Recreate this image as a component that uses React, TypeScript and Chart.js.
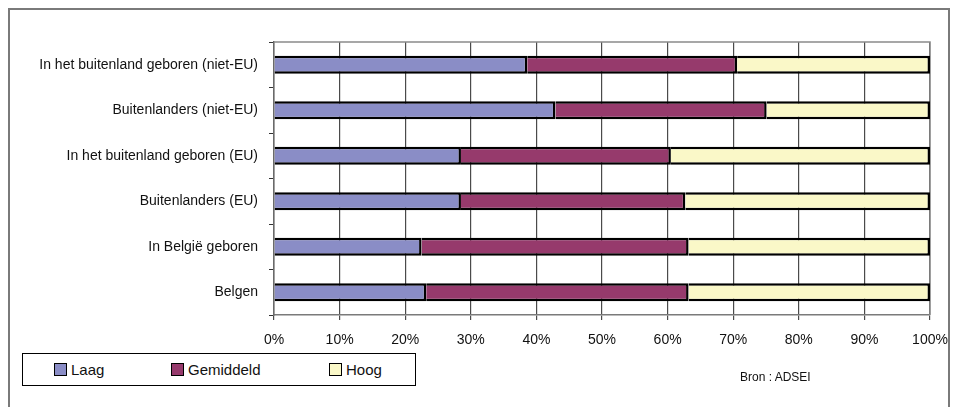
import React, { useEffect, useRef } from "react";
import { Chart, registerables } from "chart.js";

Chart.register(...registerables);

const categories = [
  "In het buitenland geboren (niet-EU)",
  "Buitenlanders (niet-EU)",
  "In het buitenland geboren (EU)",
  "Buitenlanders (EU)",
  "In België geboren",
  "Belgen",
];
const laag = [38.6, 42.9, 28.5, 28.5, 22.5, 23.2];
const gemiddeld = [32.0, 32.2, 32.0, 34.2, 40.7, 40.0];
const hoog = [29.4, 24.9, 39.5, 37.3, 36.8, 36.8];
const seriesNames = ["Laag", "Gemiddeld", "Hoog"];
const seriesColors = ["#8A8DC6", "#963A6C", "#FAF8C8"];
const sourceText = "Bron : ADSEI";

const FONT = "'Liberation Sans', Arial, sans-serif";

const frame = {
  id: "frame",
  beforeDatasetsDraw(chart: any) {
    const { ctx, chartArea } = chart;
    ctx.save();
    ctx.strokeStyle = "#8a8a8a";
    ctx.lineWidth = 1.5;
    ctx.beginPath();
    ctx.moveTo(chartArea.left, chartArea.top);
    ctx.lineTo(chartArea.right, chartArea.top);
    ctx.lineTo(chartArea.right, chartArea.bottom);
    ctx.stroke();
    ctx.restore();
  },
};

export default function App() {
  const ref = useRef<HTMLCanvasElement>(null);
  useEffect(() => {
    if (!ref.current) return;
    const values = [laag, gemiddeld, hoog];
    const chart = new Chart(ref.current, {
      type: "bar",
      data: {
        labels: categories,
        datasets: seriesNames.map((name, i) => ({
          label: name,
          data: values[i],
          backgroundColor: seriesColors[i],
          borderColor: "#000",
          borderWidth: 2.5,
          barPercentage: 0.4,
          categoryPercentage: 1,
        })),
      },
      options: {
        indexAxis: "y",
        animation: false,
        responsive: false,
        maintainAspectRatio: false,
        layout: { padding: { top: 42, right: 24, bottom: 58, left: 0 } },
        plugins: { legend: { display: false }, tooltip: { enabled: false } },
        scales: {
          x: {
            stacked: true,
            min: 0,
            max: 100,
            afterFit(scale: any) {
              scale.height = 34;
              scale.paddingLeft = 0;
              scale.paddingRight = 0;
            },
            ticks: {
              stepSize: 10,
              callback: (v: any) => v + "%",
              color: "#111",
              font: { family: FONT, size: 14 },
              padding: 12,
              maxRotation: 0,
            },
            grid: {
              color: "#4a4a4a",
              lineWidth: 1.2,
              tickLength: 5,
              drawTicks: true,
            },
            border: { display: true, color: "#7a7a7a", width: 1.5 },
          },
          y: {
            stacked: true,
            afterFit(scale: any) {
              scale.width = 274;
              scale.paddingTop = 0;
              scale.paddingBottom = 0;
            },
            ticks: {
              color: "#111",
              font: { family: FONT, size: 14 },
              padding: 11,
            },
            grid: {
              drawOnChartArea: false,
              drawTicks: true,
              tickLength: 5,
              color: "#333",
              offset: true,
            },
            border: { display: true, color: "#6a6a6a", width: 1.5 },
          },
        },
      },
      plugins: [frame],
    });
    return () => chart.destroy();
  }, []);

  const sq = (c: string) => ({
    display: "inline-block",
    width: 11,
    height: 11,
    background: c,
    border: "1.5px solid #000",
    position: "absolute" as const,
    top: 9,
  });

  return (
    <div style={{ position: "absolute", left: 0, top: 0, width: 954, height: 407, overflow: "hidden", background: "#fff" }}>
      <div
        style={{
          position: "absolute",
          left: 8,
          top: 8,
          width: 942,
          height: 420,
          border: "2px solid #7a7a7a",
          boxSizing: "border-box",
        }}
      />
      <canvas ref={ref} width={954} height={407} style={{ position: "absolute", left: 0, top: 0, width: 954, height: 407 }} />
      <div
        style={{
          position: "absolute",
          left: 22,
          top: 353,
          width: 394,
          height: 33,
          border: "1px solid #000",
          boxSizing: "border-box",
          fontFamily: FONT,
          fontSize: 15,
          color: "#111",
          background: "#fff",
        }}
      >
        {seriesNames.map((n, i) => {
          const lefts = [31, 148, 306];
          return (
            <div key={n} style={{ position: "absolute", left: lefts[i], top: 0, height: 31 }}>
              <span style={sq(seriesColors[i])} />
              <span style={{ position: "absolute", left: 17, top: 7, whiteSpace: "nowrap", lineHeight: "17px" }}>{n}</span>
            </div>
          );
        })}
      </div>
      <div
        style={{
          position: "absolute",
          left: 740,
          top: 369,
          fontFamily: FONT,
          fontSize: 12,
          color: "#111",
          whiteSpace: "nowrap",
          lineHeight: "16px",
        }}
      >
        {sourceText}
      </div>
    </div>
  );
}
